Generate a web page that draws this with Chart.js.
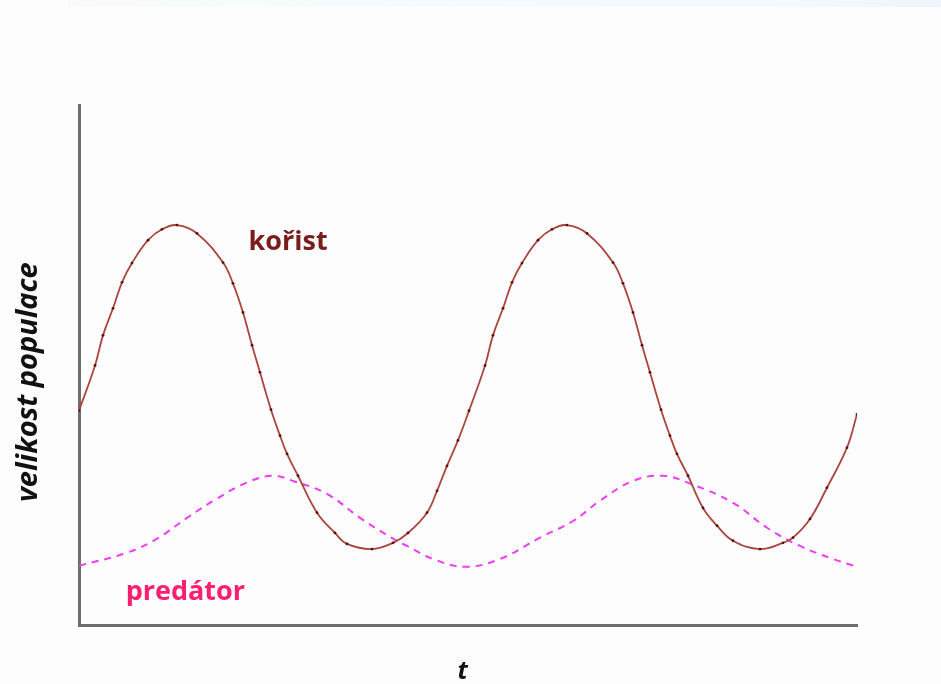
<!DOCTYPE html>
<html>
<head>
<meta charset="utf-8">
<script src="https://cdn.jsdelivr.net/npm/chart.js@4/dist/chart.umd.min.js"></script>
<style>
  html, body { margin: 0; padding: 0; background: #fdfdfd; }
  #band { position: absolute; left: 68px; top: 0; width: 873px; height: 7px;
    background: linear-gradient(to right, #fafafa, #f6fdfb 20%, #f6fbff 40%, #f5f9ff 80%, #eef5ff); }
  #wrap { position: absolute; left: 0; top: 0; width: 941px; height: 684px; }
</style>
</head>
<body>
<div id="band"></div>
<div id="wrap"><canvas id="c" width="941" height="684"></canvas></div>
<script>
// time axis (0..100) and population size (0..100)
const preyT = [0, 2.06, 3.08, 4.37, 5.53, 6.81, 8.87, 10.67, 12.6, 15.17, 18.51, 19.79, 21.08, 22.24, 23.26, 24.68, 25.84, 26.74, 28.15, 30.59, 32.9, 34.45, 37.66, 40.36, 42.29, 44.73, 46.02, 47.3, 48.71,
  50.13, 52.19, 53.21, 54.5, 55.66, 56.94, 59.0, 60.8, 62.72, 65.3, 68.64, 69.92, 71.21, 72.37, 73.39, 74.81, 75.96, 76.86, 78.28, 80.21, 82.01, 84.06, 87.53, 90.49, 91.77, 93.96, 96.14, 98.71, 100];
const preyN = [41.2, 49.9, 55.7, 60.9, 65.9, 69.6, 74.0, 76.1, 76.9, 75.3, 69.7, 65.7, 60.1, 53.8, 48.6, 41.4, 36.4, 32.9, 28.7, 21.6, 17.7, 15.6, 14.6, 15.8, 17.7, 21.6, 25.8, 30.6, 35.5,
  41.2, 49.9, 55.7, 60.9, 65.9, 69.6, 74.0, 76.1, 76.9, 75.3, 69.7, 65.7, 60.1, 53.8, 48.6, 41.4, 36.4, 32.9, 28.7, 22.5, 19.1, 16.2, 14.6, 15.8, 16.8, 20.4, 26.4, 34.1, 40.5];
const predT = [0, 6.17, 10.03, 13.88, 17.74, 21.59, 24.94, 27.51, 31.88, 36.12, 40.36, 42.16, 45.5, 49.61, 54.11, 59.25, 63.5, 66.97, 71.21, 75.06, 78.53, 84.06, 88.43, 92.67, 96.92, 100];
const predN = [11.4, 13.9, 16.6, 20.6, 24.3, 27.4, 28.7, 27.7, 25.2, 20.6, 16.6, 15.2, 12.7, 11.2, 12.7, 16.8, 20.0, 23.9, 27.7, 28.7, 27.2, 23.5, 18.7, 15.2, 12.7, 11.2];
const seriesNames = ['kořist', 'predátor'];
const axisTitles = { x: 't', y: 'velikost populace' };

const preyData = preyT.map((t, i) => ({ x: t, y: preyN[i] }));
const predData = predT.map((t, i) => ({ x: t, y: predN[i] }));

const labelPlugin = {
  id: 'labels',
  afterDraw(chart) {
    const { ctx, scales: { x, y }, chartArea } = chart;
    ctx.save();
    ctx.font = 'bold 27px "Open Sans", "DejaVu Sans", sans-serif';
    ctx.textBaseline = 'middle';
    ctx.textAlign = 'left';
    ctx.fillStyle = '#7a1c1c';
    ctx.fillText(seriesNames[0], x.getPixelForValue(21.8), y.getPixelForValue(73.6));
    ctx.fillStyle = '#ff1f6e';
    ctx.fillText(seriesNames[1], x.getPixelForValue(6.0), y.getPixelForValue(6.2));
    // axis titles
    ctx.fillStyle = '#111';
    ctx.font = 'italic bold 25px "Open Sans", "DejaVu Sans", sans-serif';
    ctx.textAlign = 'center';
    ctx.fillText(axisTitles.x, x.getPixelForValue(49.3), chartArea.bottom + 47);
    ctx.font = 'italic bold 29px "Open Sans", "DejaVu Sans", sans-serif';
    ctx.translate(chartArea.left - 50, y.getPixelForValue(46.7));
    ctx.rotate(-Math.PI / 2);
    ctx.fillText(axisTitles.y, 0, 0);
    ctx.restore();
  }
};

new Chart(document.getElementById('c'), {
  type: 'line',
  data: {
    datasets: [
      {
        label: seriesNames[0],
        data: preyData,
        borderColor: '#a8463f',
        borderWidth: 1.8,
        pointRadius: 1.4,
        pointBackgroundColor: '#5e1010',
        pointBorderWidth: 0,
        tension: 0.4,
        fill: false
      },
      {
        label: seriesNames[1],
        data: predData,
        borderColor: '#f03cf0',
        borderWidth: 2,
        borderDash: [7, 6],
        pointRadius: 0,
        tension: 0.4,
        fill: false
      }
    ]
  },
  options: {
    responsive: false,
    animation: false,
    layout: { padding: { left: 79, top: 105, right: 84, bottom: 59 } },
    plugins: { legend: { display: false }, tooltip: { enabled: false } },
    scales: {
      x: {
        type: 'linear', min: 0, max: 100,
        grid: { display: false, drawTicks: false, tickLength: 0 },
        ticks: { display: false },
        border: { display: true, color: '#6e6e6e', width: 3 }
      },
      y: {
        type: 'linear', min: 0, max: 100,
        grid: { display: false, drawTicks: false, tickLength: 0 },
        ticks: { display: false },
        border: { display: true, color: '#6e6e6e', width: 3 }
      }
    }
  },
  plugins: [labelPlugin]
});
</script>
</body>
</html>
